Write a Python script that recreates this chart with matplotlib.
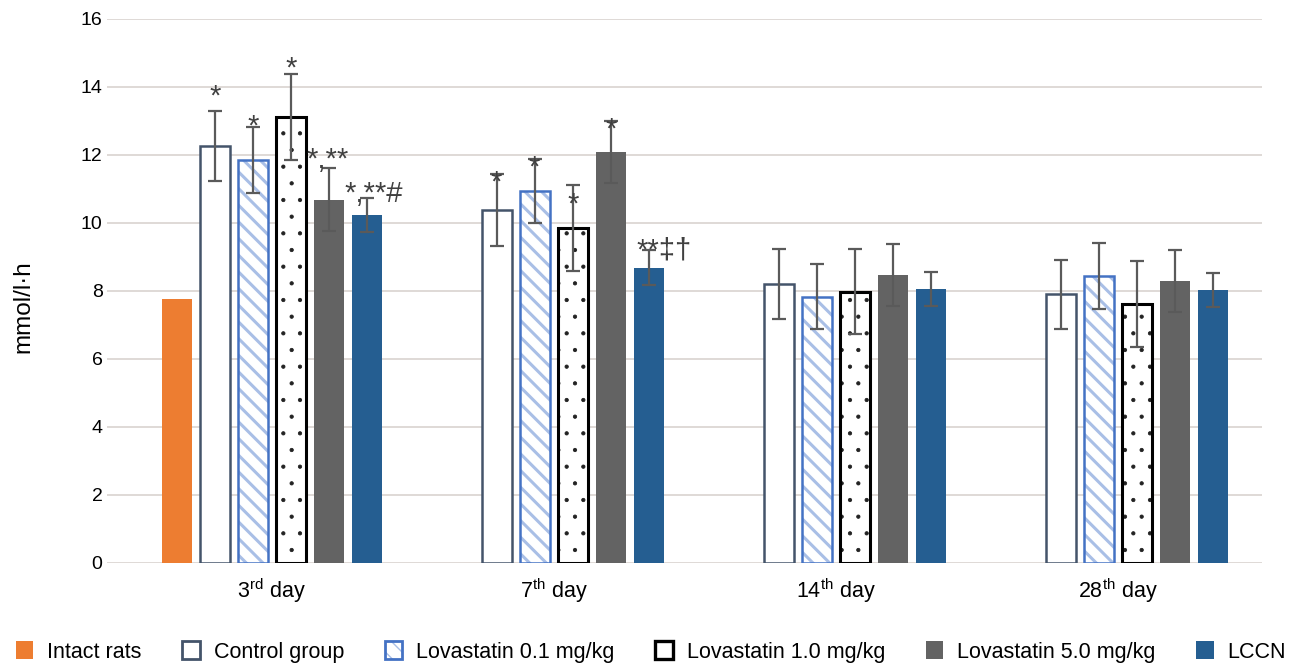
import matplotlib.pyplot as plt
import numpy as np
from matplotlib.patches import Patch
from matplotlib.legend_handler import HandlerTuple

plt.rcParams['font.family'] = ['Liberation Sans', 'DejaVu Sans']
plt.rcParams['mathtext.fontset'] = 'custom'
plt.rcParams['mathtext.rm'] = 'Liberation Sans'

days = ['3$^{\\rm rd}$ day', '7$^{\\rm th}$ day', '14$^{\\rm th}$ day', '28$^{\\rm th}$ day']
groups = ['Intact rats', 'Control group', 'Lovastatin 0.1 mg/kg',
          'Lovastatin 1.0 mg/kg', 'Lovastatin 5.0 mg/kg', 'LCCN']

# intact rats measured once (3rd day only)
intact = [7.76, None, None, None]
control = [12.26, 10.38, 8.21, 7.90]
control_sd = [1.03, 1.06, 1.02, 1.02]
lova01 = [11.85, 10.95, 7.83, 8.44]
lova01_sd = [0.96, 0.94, 0.96, 0.97]
lova10 = [13.12, 9.85, 7.98, 7.62]
lova10_sd = [1.27, 1.27, 1.25, 1.26]
lova50 = [10.68, 12.10, 8.47, 8.29]
lova50_sd = [0.93, 0.91, 0.91, 0.91]
lccn = [10.24, 8.69, 8.07, 8.03]
lccn_sd = [0.50, 0.51, 0.50, 0.50]

# significance marks per day (control, 0.1, 1.0, 5.0, LCCN)
marks = [['*', '*', '*', '*,**', '*,**#'],
         ['*', '*', '*', '*', '**‡†'],
         ['', '', '', '', ''],
         ['', '', '', '', '']]
# baseline of each mark relative to the top of its error bar
mark_dy = [[0.2, -0.22, -0.07, 0.02, -0.12],
           [-0.5, -0.5, -0.8, -0.5, -0.25],
           [0, 0, 0, 0, 0],
           [0, 0, 0, 0, 0]]

fig = plt.figure(figsize=(13.02, 6.66), dpi=100)
ax = fig.add_axes([0.082, 0.1547, 0.887, 0.8168])

x = np.arange(len(days))
slot = 0.1348
width = 0.1064
offs = [(k - 2.5) * slot for k in range(6)]

err_kw = dict(ecolor='#5a5a5a', elinewidth=1.6, capsize=5, capthick=1.6)

ax.bar(x[0] + offs[0], intact[0], width, color='#ED7D31', zorder=2)
ax.bar(x + offs[1], control, width, yerr=control_sd, facecolor='white',
       edgecolor='#44546A', linewidth=1.8, error_kw=err_kw, zorder=2)
with plt.rc_context({'hatch.linewidth': 2.2}):
    ax.bar(x + offs[2], lova01, width, facecolor='white', edgecolor='#A9BFE6',
           hatch='\\\\', linewidth=0, zorder=2)
ax.bar(x + offs[2], lova01, width, yerr=lova01_sd, facecolor='none',
       edgecolor='#4472C4', linewidth=1.8, error_kw=err_kw, zorder=3)
with plt.rc_context({'hatch.linewidth': 0.6}):
    ax.bar(x + offs[3], lova10, width, facecolor='white', edgecolor='#222222',
           hatch='.', linewidth=0, zorder=2)
ax.bar(x + offs[3], lova10, width, yerr=lova10_sd, facecolor='none',
       edgecolor='black', linewidth=2.2, error_kw=err_kw, zorder=3)
ax.bar(x + offs[4], lova50, width, yerr=lova50_sd, color='#636363',
       error_kw=err_kw, zorder=2)
ax.bar(x + offs[5], lccn, width, yerr=lccn_sd, color='#255E91',
       error_kw=err_kw, zorder=2)

series = [(control, control_sd), (lova01, lova01_sd), (lova10, lova10_sd),
          (lova50, lova50_sd), (lccn, lccn_sd)]
for d in range(len(days)):
    for k, (vals, sds) in enumerate(series):
        lab = marks[d][k]
        if not lab:
            continue
        xc = x[d] + offs[k + 1]
        y = vals[d] + sds[d] + mark_dy[d][k]
        if len(lab) == 1:
            ax.text(xc, y, lab, ha='center', va='baseline', fontsize=21,
                    color='#404040', zorder=4)
        else:
            ax.text(xc - (0.078 if d == 0 else 0.043), y, lab, ha='left',
                    va='baseline', fontsize=21, color='#404040', zorder=4)

ax.set_ylim(0, 16)
ax.set_yticks(np.arange(0, 17, 2))
ax.set_xlim(-0.585, 3.511)
ax.set_xticks(x)
ax.set_xticklabels(days, fontsize=15.5)
ax.tick_params(axis='y', labelsize=14, length=0, pad=3)
ax.tick_params(axis='x', length=0, pad=10)
ax.yaxis.grid(True, color='#d9d3d0', linewidth=1.2, zorder=0)
ax.set_axisbelow(True)
for s in ax.spines.values():
    s.set_visible(False)
ax.set_ylabel('mmol/l·h', fontsize=17.5)
ax.yaxis.set_label_coords(-0.063, 0.472)

handles = [Patch(facecolor='#ED7D31'),
           Patch(facecolor='white', edgecolor='#44546A', linewidth=2),
           (Patch(facecolor='white', edgecolor='#A9BFE6', hatch='\\\\', linewidth=0),
            Patch(facecolor='none', edgecolor='#4472C4', linewidth=2)),
           Patch(facecolor='white', edgecolor='black', linewidth=2.4),
           Patch(facecolor='#636363'),
           Patch(facecolor='#255E91')]
fig.legend(handles, groups, loc='center', bbox_to_anchor=(0.5, 0.021),
           ncol=6, frameon=False, fontsize=15.5, handlelength=0.8,
           handleheight=0.85, columnspacing=1.9, handletextpad=0.65,
           handler_map={tuple: HandlerTuple(ndivide=1)})

fig.savefig('out.png', dpi=100)
